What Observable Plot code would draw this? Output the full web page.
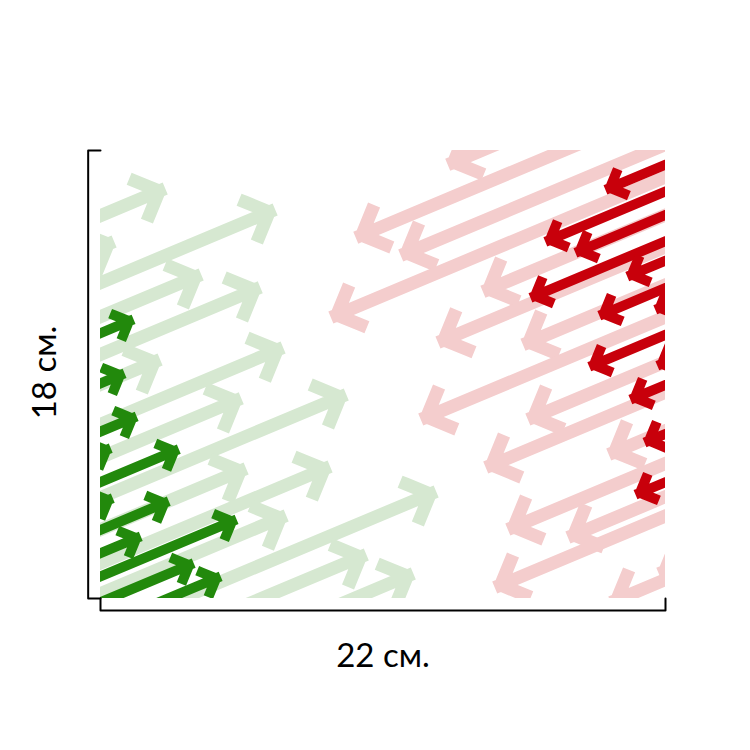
<!DOCTYPE html>
<html>
<head>
<meta charset="utf-8">
<script src="https://cdn.jsdelivr.net/npm/d3@7"></script>
<script src="https://cdn.jsdelivr.net/npm/@observablehq/plot@0.6"></script>
<style>
  html, body { margin: 0; padding: 0; background: #ffffff; }
</style>
</head>
<body>
<div id="chart"></div>
<script>
// Sheet size (cm) and dimension labels
const widthCm = 22;
const heightCm = 18;
const labelWidth = "22 см.";
const labelHeight = "18 см.";

// Arrow tips (cm from the lower-left corner of the sheet)
const lightGreenX = [2.61, 6.89, 0.62, 4.01, 6.31, 7.20, 2.41, 5.57, 9.66, 5.76, 9.03, 7.32, 13.16, 10.44, 12.27];
const lightGreenY = [16.51, 15.67, 14.38, 13.06, 12.54, 10.12, 9.64, 8.08, 8.24, 5.26, 5.34, 3.37, 4.34, 1.81, 1.04];

const darkGreenX = [1.36, 1.01, 1.48, 0.47, 3.12, 0.55, 2.73, 1.64, 5.37, 3.70, 4.75];
const darkGreenY = [11.25, 9.08, 7.35, 6.07, 6.03, 4.06, 3.94, 2.53, 3.21, 1.45, 0.92];

const lightRedX = [13.43, 9.85, 11.60, 8.88, 14.80, 13.05, 16.36, 12.38, 16.55, 14.91, 19.70, 15.77, 18.11, 15.26, 21.65, 19.78];
const lightRedY = [17.39, 14.46, 13.74, 11.25, 12.29, 10.25, 10.16, 7.15, 7.15, 5.22, 5.75, 2.73, 2.41, 0.40, 0.96, -0.20];

const darkRedX = [19.59, 17.25, 18.42, 16.67, 20.44, 19.35, 21.53, 18.96, 21.61, 20.56, 21.11, 20.76];
const darkRedY = [16.39, 14.30, 13.86, 12.05, 12.90, 11.33, 11.57, 9.28, 9.32, 7.96, 6.23, 4.14];

// Shaft geometry: all arrows share one direction; shafts run off the sheet
const shaftLength = 30;   // cm
const shaftSlope = 0.433; // rise per cm of run

// green arrows point up-right (tail down-left), red arrows point down-left (tail up-right)
function arrows(xs, ys, dir) {
  return xs.map((x, i) => ({
    x2: x, y2: ys[i],
    x1: x - dir * shaftLength,
    y1: ys[i] - dir * shaftLength * shaftSlope
  }));
}

const lightGreen = arrows(lightGreenX, lightGreenY, 1);
const darkGreen = arrows(darkGreenX, darkGreenY, 1);
const lightRed = arrows(lightRedX, lightRedY, -1);
const darkRed = arrows(darkRedX, darkRedY, -1);

const bracketOffset = 0.48; // cm outside the sheet
const leftBracket = [[0, heightCm], [-bracketOffset, heightCm], [-bracketOffset, 0], [0, 0]];
const bottomBracket = [[0, 0], [0, -bracketOffset], [widthCm, -bracketOffset], [widthCm, 0]];

const light = {strokeWidth: 13, headAngle: 90, headLength: 3.0, insetEnd: 9, strokeLinecap: "square", strokeLinejoin: "bevel", strokeMiterlimit: 1, clip: true};
const dark = {strokeWidth: 10, headAngle: 90, headLength: 2.3, insetEnd: 7, strokeLinecap: "square", strokeLinejoin: "bevel", strokeMiterlimit: 1, clip: true};
const chan = {x1: "x1", y1: "y1", x2: "x2", y2: "y2"};

const chart = Plot.plot({
  width: 750,
  height: 750,
  marginLeft: 100,
  marginRight: 85,
  marginTop: 150,
  marginBottom: 152,
  style: {background: "#ffffff"},
  x: {domain: [0, widthCm], axis: null},
  y: {domain: [0, heightCm], axis: null},
  marks: [
    Plot.arrow(lightGreen, {...chan, ...light, stroke: "#d6e8d1"}),
    Plot.arrow(lightRed, {...chan, ...light, stroke: "#f4cdcd"}),
    Plot.arrow(darkGreen, {...chan, ...dark, stroke: "#22890c"}),
    Plot.arrow(darkRed, {...chan, ...dark, stroke: "#c8000b"}),
    Plot.line(leftBracket, {stroke: "#000000", strokeWidth: 2, clip: false}),
    Plot.line(bottomBracket, {stroke: "#000000", strokeWidth: 2, clip: false}),
    Plot.text([labelWidth], {frameAnchor: "bottom", dy: 58, textAnchor: "middle", lineAnchor: "middle", fontSize: 33, fontFamily: "Lato", fill: "#000000"}),
    Plot.text([labelHeight], {frameAnchor: "left", dx: -55, dy: -2, rotate: -90, textAnchor: "middle", lineAnchor: "middle", fontSize: 33, fontFamily: "Lato", fill: "#000000"})
  ]
});

document.getElementById("chart").appendChild(chart);
</script>
</body>
</html>
